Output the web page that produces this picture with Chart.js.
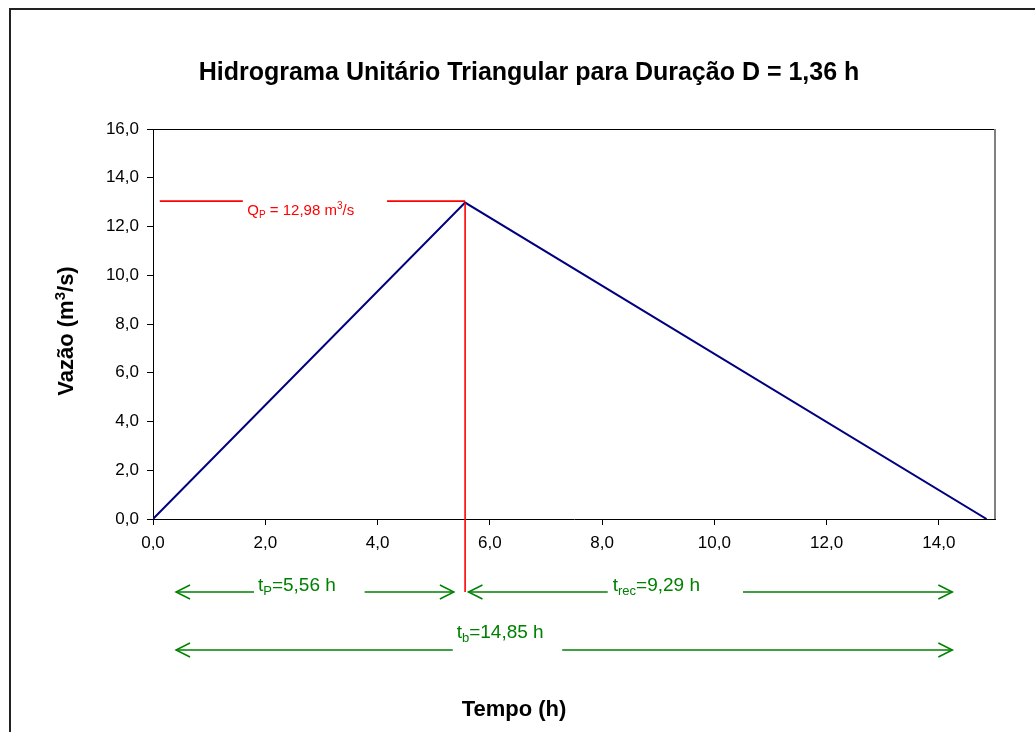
<!DOCTYPE html>
<html>
<head>
<meta charset="utf-8">
<script src="https://cdn.jsdelivr.net/npm/chart.js@4/dist/chart.umd.min.js"></script>
<style>
  html, body { margin: 0; padding: 0; background: #ffffff; }
  #wrap { width: 1035px; height: 732px; position: relative; }
</style>
</head>
<body>
<div id="wrap"><canvas id="c" width="1035" height="732"></canvas></div>
<script>
// ---- data ----
const timeHours = [0, 5.56, 14.85];
const flowValues = [0, 12.98, 0];
const xTickStep = 2;
const yTickStep = 2;
const xMax = 15;
const yMax = 16;
const titleText = 'Hidrograma Unitário Triangular para Duração D = 1,36 h';
const xTitle = 'Tempo (h)';
const yTitleParts = [{t: 'Vazão (m'}, {t: '3', sup: true}, {t: '/s)'}];
const peakTime = 5.56;
const peakFlow = 12.98;
const recessionTime = 9.29;
const baseTime = 14.85;

const FONT = '"Liberation Sans", Arial, sans-serif';
const fmt = v => v.toFixed(1).replace('.', ',');
function fmt2(v) { return v.toFixed(2).replace('.', ','); }

function richWidth(ctx, parts, size, weight) {
  let w = 0;
  for (const p of parts) {
    const s = (p.sub || p.sup) ? Math.round(size * 0.68) : size;
    ctx.font = weight + ' ' + s + 'px ' + FONT;
    w += ctx.measureText(p.t).width;
  }
  return w;
}
function drawRich(ctx, parts, x, y, size, weight, color, align) {
  const w = richWidth(ctx, parts, size, weight);
  let cx = align === 'center' ? x - w / 2 : x;
  ctx.fillStyle = color;
  ctx.textBaseline = 'alphabetic';
  ctx.textAlign = 'left';
  for (const p of parts) {
    const s = (p.sub || p.sup) ? Math.round(size * 0.68) : size;
    ctx.font = weight + ' ' + s + 'px ' + FONT;
    let dy = 0;
    if (p.sub) dy = size * 0.22;
    if (p.sup) dy = -size * 0.38;
    ctx.fillText(p.t, cx, y + dy);
    cx += ctx.measureText(p.t).width;
  }
}
function hLine(ctx, x1, x2, y) {
  ctx.beginPath(); ctx.moveTo(x1, y); ctx.lineTo(x2, y); ctx.stroke();
}
function arrowHead(ctx, x, y, dir) {
  ctx.beginPath();
  ctx.moveTo(x - dir * 14, y - 7);
  ctx.lineTo(x, y);
  ctx.lineTo(x - dir * 14, y + 7);
  ctx.stroke();
}

const decor = {
  id: 'decor',
  afterDraw(chart) {
    const ctx = chart.ctx;
    const a = chart.chartArea;
    const xs = chart.scales.x, ys = chart.scales.y;
    ctx.save();
    // outer frame
    ctx.strokeStyle = '#222222';
    ctx.lineWidth = 2;
    ctx.beginPath();
    ctx.moveTo(10, 732); ctx.lineTo(10, 9); ctx.lineTo(1035, 9);
    ctx.stroke();
    // plot top/right border
    ctx.lineWidth = 1;
    ctx.strokeStyle = '#000000';
    hLine(ctx, a.left, a.right, a.top + 0.5);
    ctx.strokeStyle = '#808080';
    ctx.lineWidth = 2;
    ctx.beginPath(); ctx.moveTo(a.right, a.top); ctx.lineTo(a.right, a.bottom); ctx.stroke();

    // title
    ctx.fillStyle = '#000000';
    ctx.textAlign = 'center';
    ctx.textBaseline = 'alphabetic';
    ctx.font = 'bold 25px ' + FONT;
    ctx.fillText(titleText, 529, 80);
    ctx.font = 'bold 22px ' + FONT;
    ctx.fillText(xTitle, 514, 716);
    ctx.save();
    ctx.translate(73, 331);
    ctx.rotate(-Math.PI / 2);
    drawRich(ctx, yTitleParts, 0, 0, 22, 'bold', '#000000', 'center');
    ctx.restore();

    // red peak lines
    const px = xs.getPixelForValue(peakTime);
    const py = ys.getPixelForValue(peakFlow);
    const row1 = a.bottom + 73;
    const row2 = a.bottom + 131;
    ctx.strokeStyle = 'rgb(255,0,0)';
    ctx.lineWidth = 1.6;
    ctx.beginPath(); ctx.moveTo(px, py); ctx.lineTo(px, row1); ctx.stroke();
    hLine(ctx, xs.getPixelForValue(0.12), xs.getPixelForValue(1.6), py - 1.5);
    hLine(ctx, xs.getPixelForValue(4.17), px, py - 1.5);
    drawRich(ctx, [{t: 'Q'}, {t: 'P', sub: true}, {t: ' = ' + fmt2(peakFlow) + ' m'}, {t: '3', sup: true}, {t: '/s'}],
      xs.getPixelForValue(1.68), py + 12, 15, 'normal', '#ff0000', 'left');

    // green arrows
    ctx.strokeStyle = '#008000';
    ctx.lineWidth = 1.5;
    const L = xs.getPixelForValue(0.41);
    const R = xs.getPixelForValue(14.24);
    const m1 = xs.getPixelForValue(5.36);
    const m2 = xs.getPixelForValue(5.62);
    // row 1 left
    hLine(ctx, L, xs.getPixelForValue(1.8), row1);
    hLine(ctx, xs.getPixelForValue(3.77), m1, row1);
    arrowHead(ctx, L, row1, -1); arrowHead(ctx, m1, row1, 1);
    // row 1 right
    hLine(ctx, m2, xs.getPixelForValue(8.1), row1);
    hLine(ctx, xs.getPixelForValue(10.51), R, row1);
    arrowHead(ctx, m2, row1, -1); arrowHead(ctx, R, row1, 1);
    // row 2
    hLine(ctx, L, xs.getPixelForValue(5.34), row2);
    hLine(ctx, xs.getPixelForValue(7.29), R, row2);
    arrowHead(ctx, L, row2, -1); arrowHead(ctx, R, row2, 1);

    drawRich(ctx, [{t: 't'}, {t: 'P', sub: true}, {t: '=' + fmt2(peakTime) + ' h'}],
      xs.getPixelForValue(1.87), row1 - 1, 19, 'normal', '#008000', 'left');
    drawRich(ctx, [{t: 't'}, {t: 'rec', sub: true}, {t: '=' + fmt2(recessionTime) + ' h'}],
      xs.getPixelForValue(8.19), row1 - 1, 19, 'normal', '#008000', 'left');
    drawRich(ctx, [{t: 't'}, {t: 'b', sub: true}, {t: '=' + fmt2(baseTime) + ' h'}],
      xs.getPixelForValue(5.41), row2 - 12, 19, 'normal', '#008000', 'left');
    ctx.restore();
  }
};

new Chart(document.getElementById('c'), {
  type: 'scatter',
  data: {
    datasets: [{
      data: timeHours.map((t, i) => ({x: t, y: flowValues[i]})),
      showLine: true,
      borderColor: '#000080',
      borderWidth: 2,
      pointRadius: 0,
      fill: false,
      tension: 0
    }]
  },
  options: {
    responsive: false,
    animation: false,
    layout: { padding: { top: 129, right: 40, left: 0, bottom: 0 } },
    plugins: { legend: { display: false }, tooltip: { enabled: false }, title: { display: false } },
    scales: {
      x: {
        type: 'linear', min: 0, max: xMax,
        afterFit: s => { s.height = 213; },
        border: { display: true, color: '#000', width: 1 },
        grid: { display: true, drawOnChartArea: false, drawTicks: true, tickLength: 6, tickColor: '#000' },
        ticks: { stepSize: xTickStep, includeBounds: false, maxRotation: 0, padding: 8, color: '#000',
                 font: { family: FONT, size: 17 }, callback: v => fmt(v) }
      },
      y: {
        type: 'linear', min: 0, max: yMax,
        afterFit: s => { s.width = 153; },
        border: { display: true, color: '#000', width: 1 },
        grid: { display: true, drawOnChartArea: false, drawTicks: true, tickLength: 6, tickColor: '#000' },
        ticks: { stepSize: yTickStep, padding: 8, color: '#000',
                 font: { family: FONT, size: 17 }, callback: v => fmt(v) }
      }
    }
  },
  plugins: [decor]
});
</script>
</body>
</html>
